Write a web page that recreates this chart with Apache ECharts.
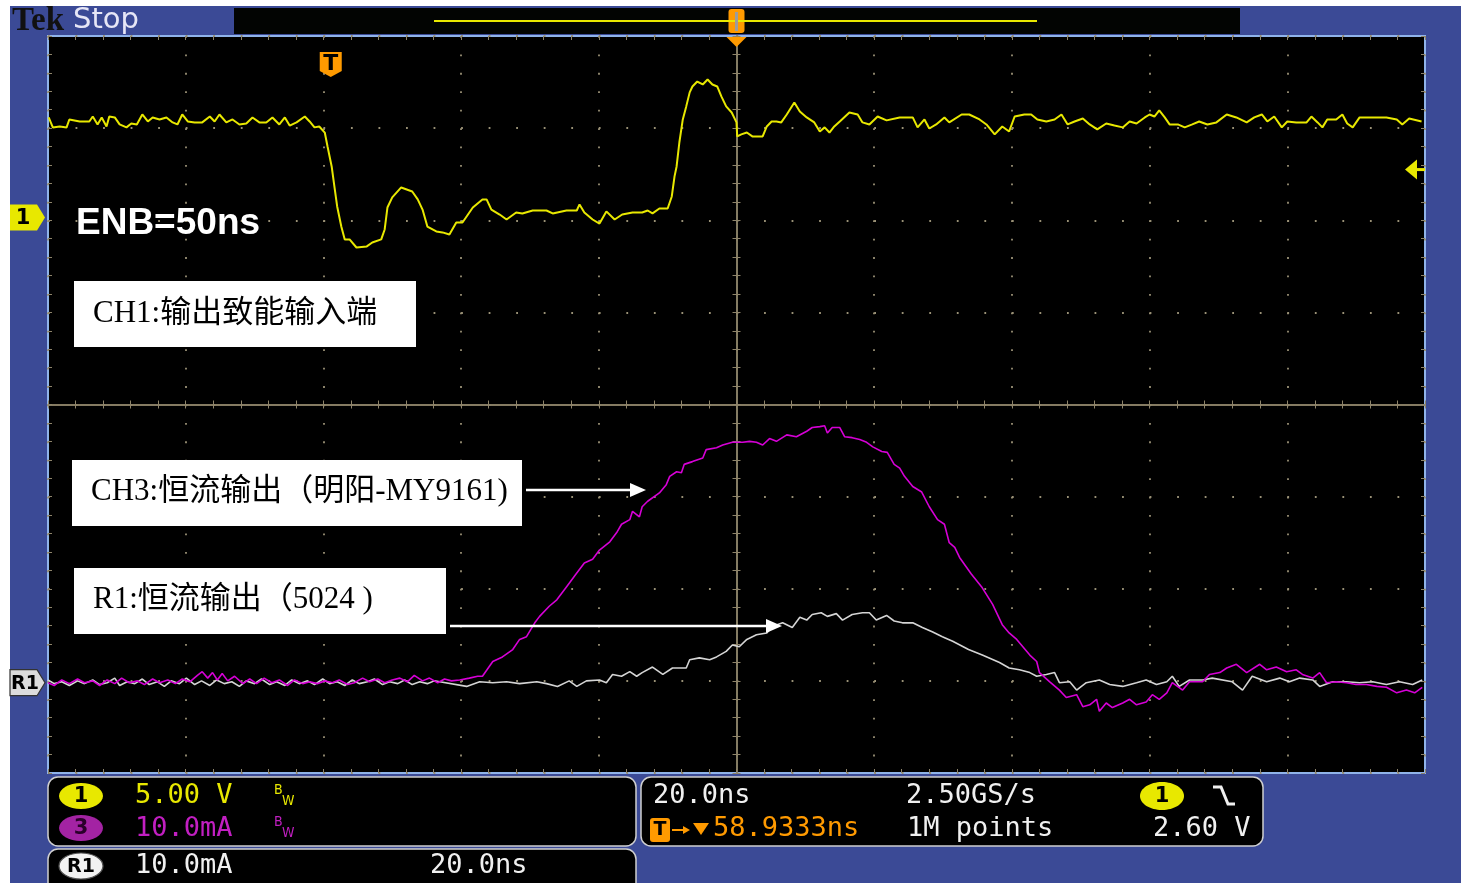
<!DOCTYPE html>
<html>
<head>
<meta charset="utf-8">
<script src="https://cdn.jsdelivr.net/npm/echarts/dist/echarts.min.js"></script>
<style>
html,body{margin:0;padding:0;background:#fff;overflow:hidden;}
#wrap{position:relative;width:1461px;height:883px;background:#fff;}
#frame{position:absolute;left:10px;top:6px;width:1451px;height:877px;background:#3b4a96;}
#c{position:absolute;left:0;top:0;width:1461px;height:883px;}
</style>
</head>
<body>
<div id="wrap"><div id="frame"></div><div id="c"></div></div>
<script>
// ---------- scope settings ----------
const timeMin = -100, timeMax = 100, timePerDiv = 20;      // ns, 0 = screen centre
const ch1VoltsPerDiv = 5, ch1PositionDiv = 2.03;           // CH1 ground 2.03 div above centre
const currentPerDiv = 10, currentPositionDiv = -3.02;      // CH3 / R1 ground below centre
const triggerTimeNs = -58.9333;                            // trigger point relative to centre
const triggerLevelV = 2.60;
const sampleRate = '2.50GS/s', recordLength = '1M points';

// ---------- CH1: output-enable input (V) ----------
const ch1Time = [-99.9,-99.3,-98.3,-97.3,-96.9,-95.4,-94.0,-93.5,-92.8,-92.2,
-91.5,-91.1,-90.3,-89.6,-88.6,-87.9,-87.1,-86.3,-85.5,-84.8,
-83.8,-82.8,-81.9,-81.2,-80.5,-79.7,-78.7,-77.6,-76.5,-75.8,
-75.1,-74.1,-73.2,-72.2,-71.2,-70.3,-69.3,-68.3,-67.4,-66.4,
-65.6,-64.9,-63.9,-62.7,-62.0,-61.3,-60.6,-59.8,-59.4,-58.8,
-58.4,-58.0,-57.4,-56.9,-56.2,-55.2,-53.7,-52.9,-51.6,-51.1,
-50.7,-50.0,-48.7,-47.1,-46.3,-45.6,-44.9,-43.6,-42.7,-41.7,
-40.7,-39.8,-38.3,-36.9,-36.3,-35.6,-34.4,-33.4,-32.0,-31.1,
-29.6,-27.6,-26.7,-24.7,-23.2,-22.8,-22.1,-20.9,-19.9,-18.9,
-17.7,-16.6,-15.1,-13.7,-12.9,-12.2,-11.2,-10.0,-9.4,-9.0,
-8.7,-8.3,-7.8,-7.3,-6.8,-6.4,-5.7,-4.9,-4.2,-3.5,
-2.8,-2.2,-1.5,-0.7,0.0,0.1,0.7,1.5,2.3,3.8,
4.4,5.1,5.8,6.5,7.3,8.4,9.2,10.2,11.3,12.1,
12.8,13.5,14.2,15.0,16.4,17.6,18.3,19.3,20.5,21.8,
23.7,25.6,26.3,27.3,28.0,29.0,30.2,30.9,32.7,33.8,
35.3,36.3,37.5,38.6,39.6,40.4,41.8,42.8,43.7,45.0,
46.2,47.2,48.1,49.1,50.3,51.3,52.4,53.7,54.9,56.1,
57.1,58.1,59.3,60.0,60.7,61.4,62.2,62.9,64.1,65.1,
66.2,67.2,68.4,69.7,71.2,72.6,74.1,75.2,76.3,77.1,
78.1,79.2,80.0,81.3,82.8,83.5,84.4,85.1,85.8,87.1,
88.0,88.7,89.5,90.5,92.4,94.4,95.9,96.7,97.7,99.5];
const ch1Volt = [5.43,4.89,4.94,4.89,5.32,5.21,5.21,5.48,5.05,5.43,
4.94,5.48,5.43,5.05,4.89,5.10,5.05,5.59,5.21,5.43,
5.32,5.43,5.16,5.05,5.59,5.21,5.16,5.16,5.48,5.21,
5.59,5.16,5.32,5.05,5.10,5.43,5.16,5.16,5.43,5.05,
5.43,4.99,5.16,5.48,5.21,4.89,4.94,4.61,3.85,2.77,
1.68,0.60,-0.49,-1.19,-1.19,-1.63,-1.57,-1.36,-1.19,-0.65,
0.54,1.09,1.63,1.41,0.98,0.43,-0.49,-0.76,-0.81,-0.92,
-0.27,-0.27,0.54,0.98,0.98,0.43,0.16,-0.11,0.27,0.22,
0.38,0.38,0.22,0.38,0.38,0.71,0.27,-0.11,-0.33,0.33,
-0.11,0.16,0.27,0.27,0.38,0.22,0.49,0.49,1.14,2.23,
2.77,4.07,5.32,6.03,6.79,7.11,7.38,7.22,7.49,7.22,
7.11,6.57,6.03,5.70,5.16,4.40,4.51,4.61,4.40,4.40,
4.94,5.21,5.21,5.16,5.59,6.24,5.75,5.43,5.16,4.67,
4.89,4.61,4.94,5.21,5.70,5.59,5.16,5.05,5.48,5.27,
5.43,5.43,4.89,5.32,4.83,5.05,5.43,5.16,5.59,5.59,
5.32,5.05,4.51,4.94,4.67,5.48,5.59,5.59,5.32,5.21,
5.32,5.59,5.05,5.21,5.37,5.05,4.78,5.10,4.99,4.89,
5.21,5.10,5.43,5.59,5.48,5.81,5.43,5.05,5.05,4.89,
5.05,5.21,5.05,5.16,5.59,5.43,5.16,5.43,5.59,5.21,
5.48,4.89,5.21,5.16,5.16,5.48,5.16,4.89,5.32,5.32,
5.59,5.10,4.89,5.43,5.43,5.43,5.32,5.05,5.37,5.21];

// ---------- CH3: constant-current output, MY9161 (mA) ----------
const ch3Time = [-100.0,-99.1,-98.0,-96.9,-95.7,-94.7,-93.5,-92.5,-91.4,-90.3,
-89.3,-88.2,-87.0,-86.0,-84.8,-83.8,-82.6,-81.5,-80.5,-79.4,
-78.3,-77.6,-76.8,-76.1,-75.4,-74.7,-73.9,-72.9,-71.7,-70.7,
-69.7,-68.6,-67.5,-66.4,-65.2,-64.2,-63.0,-62.0,-60.9,-59.8,
-58.7,-57.7,-56.5,-55.5,-54.3,-53.3,-52.1,-51.1,-50.0,-48.9,
-47.8,-46.8,-45.6,-44.6,-43.4,-42.4,-41.4,-40.2,-38.8,-37.6,
-36.9,-35.4,-34.0,-32.5,-31.5,-30.5,-29.3,-28.6,-27.2,-26.1,
-24.7,-23.2,-22.1,-20.9,-19.9,-18.4,-17.4,-16.7,-15.5,-15.1,
-14.1,-13.7,-12.9,-11.2,-10.2,-9.7,-8.7,-8.0,-7.6,-6.4,
-4.9,-4.4,-2.9,-2.0,-0.6,0.9,1.9,2.9,3.8,4.8,
5.8,7.3,8.7,10.2,11.0,12.1,12.8,13.2,13.9,15.0,
15.7,16.8,17.9,18.9,19.8,21.1,21.9,22.9,23.7,24.4,
25.6,26.9,28.0,29.2,30.2,30.9,31.7,32.4,34.1,35.7,
37.2,38.6,39.6,40.7,42.6,43.6,44.0,45.5,46.9,47.9,
49.4,50.3,51.3,52.3,52.7,53.7,54.6,56.1,57.1,58.1,
59.5,60.4,61.4,62.5,63.3,64.8,65.8,67.7,68.7,70.2,
71.2,72.6,74.1,76.0,77.0,78.4,79.9,81.3,82.2,83.7,
84.7,85.7,87.1,88.6,90.0,91.5,93.0,94.4,95.9,97.3,
98.5,99.6];
const ch3Current = [0.0,-0.3,0.3,-0.1,0.4,0.0,0.2,-0.3,0.3,-0.1,
0.5,0.0,0.2,-0.2,0.4,0.0,0.3,-0.1,0.4,0.1,
0.8,1.2,0.5,1.1,0.3,1.0,0.2,0.7,-0.1,0.4,
-0.1,0.5,0.0,0.3,-0.3,0.3,-0.1,0.1,-0.1,0.2,
0.0,0.3,-0.2,0.0,0.5,0.1,0.4,0.0,0.3,0.5,
0.1,0.8,0.2,0.5,0.0,0.4,0.2,0.3,0.5,0.7,
0.7,2.3,2.8,3.6,4.7,5.0,6.5,7.2,8.3,9.0,
10.4,11.9,13.0,13.4,14.4,15.3,16.3,17.2,17.7,18.6,
18.0,19.1,19.7,20.6,21.5,22.4,22.9,22.8,23.7,24.0,
24.4,25.3,25.5,25.8,26.1,26.1,26.2,26.1,25.8,26.5,
26.2,26.9,26.7,27.3,27.7,27.8,27.9,27.1,27.7,27.7,
26.7,26.6,26.4,26.1,25.6,25.1,25.0,23.7,23.3,22.4,
21.3,20.7,19.1,17.7,17.2,15.2,14.7,13.6,11.8,10.3,
8.5,6.3,5.4,4.7,3.0,2.3,1.1,0.1,-0.8,-1.6,
-1.3,-2.6,-2.4,-1.8,-3.1,-2.2,-2.7,-2.2,-1.8,-2.4,
-2.1,-1.3,-1.8,-1.1,0.0,-0.8,0.1,0.1,0.9,1.1,
1.6,2.0,1.1,2.0,1.4,1.7,1.2,1.4,0.9,0.5,
1.1,0.0,0.1,0.0,-0.2,-0.2,-0.4,-0.5,-1.1,-0.8,
-1.1,-0.5];

// ---------- R1: reference waveform, constant-current output 5024 (mA) ----------
const r1Time = [-100.0,-99.1,-98.0,-96.9,-95.7,-94.7,-93.5,-92.5,-91.4,-90.3,
-89.6,-88.5,-87.4,-86.3,-85.3,-84.1,-83.1,-82.1,-80.9,-79.9,
-78.7,-77.7,-76.5,-75.5,-74.4,-73.3,-72.2,-71.2,-70.0,-69.0,
-67.8,-66.8,-65.6,-64.6,-63.5,-62.3,-61.3,-60.1,-59.1,-58.0,
-56.9,-55.8,-54.8,-53.6,-52.6,-51.4,-50.4,-49.2,-48.2,-47.1,
-46.0,-44.9,-43.9,-43.1,-39.2,-37.3,-35.4,-33.4,-31.5,-29.0,
-27.6,-26.0,-24.3,-23.2,-21.8,-19.9,-18.9,-18.0,-16.7,-15.5,
-14.5,-13.7,-12.2,-10.7,-9.3,-7.3,-6.8,-5.4,-3.9,-2.9,
-1.5,-0.6,0.4,1.5,2.9,4.4,5.2,6.7,8.1,9.2,
10.2,11.0,12.3,13.2,14.5,15.4,16.8,18.3,19.3,20.3,
21.8,22.9,24.1,25.6,27.0,28.5,29.9,31.4,33.7,35.7,
38.2,39.6,41.1,42.6,43.6,45.0,46.2,46.9,48.4,49.4,
50.8,52.7,54.2,56.1,58.1,59.5,61.0,62.5,63.3,64.3,
65.8,67.7,69.1,72.0,73.5,74.9,77.0,78.9,80.3,81.8,
83.7,84.7,86.6,88.6,90.5,92.4,94.4,96.3,98.2,99.6];
const r1Current = [0.3,-0.1,0.1,-0.3,0.2,-0.1,0.3,-0.2,0.0,0.5,
-0.3,0.1,-0.1,0.4,-0.2,0.1,-0.4,0.2,-0.1,0.5,
-0.2,0.2,-0.3,0.3,-0.1,0.1,-0.4,0.2,-0.1,0.4,
-0.2,0.1,-0.3,0.3,-0.1,0.2,-0.2,0.4,-0.1,0.1,
-0.3,0.3,-0.1,0.1,0.4,-0.2,0.1,-0.1,0.3,-0.2,
0.1,-0.1,0.2,0.1,-0.4,0.1,0.0,0.1,-0.1,0.1,
-0.1,-0.4,0.2,-0.4,0.2,0.3,0.0,0.9,0.7,1.2,
0.7,1.1,1.7,0.9,1.6,1.6,2.5,2.7,2.5,2.8,
3.4,4.1,3.9,4.7,5.2,5.4,6.1,6.5,6.0,7.1,
6.8,7.4,7.6,7.2,7.5,6.8,7.4,7.6,7.6,6.8,
7.3,6.7,6.5,6.5,6.0,5.5,5.0,4.5,3.6,3.0,
2.2,1.6,1.4,1.1,0.7,0.9,1.1,0.0,0.1,-0.8,
0.0,0.3,-0.2,-0.4,0.0,0.3,-0.2,0.1,0.7,-0.4,
0.3,0.3,0.5,0.1,-0.8,0.7,0.1,0.5,0.1,0.5,
0.3,-0.4,0.1,0.1,0.0,0.1,-0.2,0.1,-0.2,0.3];

// ---------- colours ----------
const C = {
  plotBorder:'#8fb3ea', gridDot:'#9a9176', center:'#8e846a',
  ch1:'#e8e800', ch3:'#d600d6', ch3Text:'#c21fc2', r1:'#d4d4d4',
  orange:'#ff9a00', text:'#f0f0f0'
};

const chart = echarts.init(document.getElementById('c'), null, {renderer:'canvas'});
const pairs = (ts, vs) => ts.map((t, i) => [t, vs[i]]);

const tickStyle = {color:C.center, width:1};
function timeAxis(extra){
  return Object.assign({
    type:'value', min:timeMin, max:timeMax, interval:timePerDiv,
    axisLabel:{show:false}, splitLine:{show:false},
    axisTick:{show:true, length:4, lineStyle:tickStyle},
    minorTick:{show:true, splitNumber:5, length:4, lineStyle:tickStyle}
  }, extra);
}
function divAxis(extra){
  return Object.assign({
    type:'value', min:-4, max:4, interval:1,
    axisLabel:{show:false}, splitLine:{show:false},
    axisTick:{show:true, length:4, lineStyle:tickStyle},
    minorTick:{show:true, splitNumber:5, length:4, lineStyle:tickStyle}
  }, extra);
}

const ch1Min = (-4 - ch1PositionDiv) * ch1VoltsPerDiv, ch1Max = (4 - ch1PositionDiv) * ch1VoltsPerDiv;
const curMin = (-4 - currentPositionDiv) * currentPerDiv, curMax = (4 - currentPositionDiv) * currentPerDiv;

chart.setOption({
  animation:false,
  grid:{left:48, top:36, width:1377, height:737, show:true, backgroundColor:'#000',
        borderColor:C.plotBorder, borderWidth:2, outerBoundsMode:'none', containLabel:false},
  xAxis:[
    timeAxis({position:'bottom',
      axisLine:{show:true, onZero:true, onZeroAxisIndex:0, lineStyle:{color:C.center, width:1.5}},
      axisTick:{show:true, inside:false, length:4, lineStyle:tickStyle},
      splitLine:{show:true, lineStyle:{color:C.gridDot, width:1.8, type:[1.8, 16.625]}}}),
    timeAxis({position:'top',
      axisLine:{show:true, onZero:true, onZeroAxisIndex:0, lineStyle:{color:C.center, width:1.5}},
      axisTick:{show:true, inside:false, length:4, lineStyle:tickStyle}}),
    timeAxis({position:'top', axisLine:{show:false, onZero:false},
      axisTick:{show:true, inside:true, length:4, lineStyle:tickStyle}}),
    timeAxis({position:'bottom', axisLine:{show:false, onZero:false},
      axisTick:{show:true, inside:true, length:4, lineStyle:tickStyle}})
  ],
  yAxis:[
    divAxis({position:'left',
      axisLine:{show:true, onZero:true, onZeroAxisIndex:0, lineStyle:{color:C.center, width:1.5}},
      axisTick:{show:true, inside:false, length:4, lineStyle:tickStyle},
      splitLine:{show:true, lineStyle:{color:C.gridDot, width:1.8, type:[1.8, 25.74]}}}),
    divAxis({position:'right',
      axisLine:{show:true, onZero:true, onZeroAxisIndex:0, lineStyle:{color:C.center, width:1.5}},
      axisTick:{show:true, inside:false, length:4, lineStyle:tickStyle}}),
    divAxis({position:'left', axisLine:{show:false, onZero:false},
      axisTick:{show:true, inside:true, length:4, lineStyle:tickStyle}}),
    divAxis({position:'right', axisLine:{show:false, onZero:false},
      axisTick:{show:true, inside:true, length:4, lineStyle:tickStyle}}),
    {type:'value', show:false, min:ch1Min, max:ch1Max, axisLine:{onZero:false}},
    {type:'value', show:false, min:curMin, max:curMax, axisLine:{onZero:false}}
  ],
  series:[
    {name:'R1', type:'line', xAxisIndex:0, yAxisIndex:5, data:pairs(r1Time, r1Current),
     showSymbol:false, symbol:'none', silent:true, z:3,
     lineStyle:{color:C.r1, width:1.6}},
    {name:'CH3', type:'line', xAxisIndex:0, yAxisIndex:5, data:pairs(ch3Time, ch3Current),
     showSymbol:false, symbol:'none', silent:true, z:4,
     lineStyle:{color:C.ch3, width:1.6}},
    {name:'CH1', type:'line', xAxisIndex:0, yAxisIndex:4, data:pairs(ch1Time, ch1Volt),
     showSymbol:false, symbol:'none', silent:true, z:5,
     lineStyle:{color:C.ch1, width:2}}
  ]
});

// ---------- positions from the scales ----------
const ch1GroundY = chart.convertToPixel({yAxisIndex:4}, 0);
const curGroundY = chart.convertToPixel({yAxisIndex:5}, 0);
const trigLevelY = chart.convertToPixel({yAxisIndex:4}, triggerLevelV);
const trigX = chart.convertToPixel({xAxisIndex:0}, triggerTimeNs);
const centerX = chart.convertToPixel({xAxisIndex:0}, 0);

// ---------- graphic helpers ----------
const Z = 100;
const txt = (x, y, text, font, fill, align) => ({type:'text', x, y, z:Z+2, silent:true,
  style:{text, font, fill, align:align || 'left', verticalAlign:'middle'}});
const rect = (x, y, w, h, fill, r, stroke, lw) => ({type:'rect', z:Z, silent:true,
  shape:{x, y, width:w, height:h, r:r || 0}, style:{fill, stroke:stroke || null, lineWidth:lw || 0}});
const poly = (points, fill, stroke, lw) => ({type:'polygon', z:Z+1, silent:true,
  shape:{points}, style:{fill, stroke:stroke || null, lineWidth:lw || 0}});
const line = (x1, y1, x2, y2, stroke, lw) => ({type:'line', z:Z+1, silent:true,
  shape:{x1, y1, x2, y2}, style:{stroke, lineWidth:lw}});
const ell = (cx, cy, rx, ry, fill, stroke) => ({type:'ellipse', z:Z+1, silent:true,
  shape:{cx, cy, rx, ry}, style:{fill, stroke:stroke || null, lineWidth:stroke ? 1.2 : 0}});

const mono = '27px "DejaVu Sans Mono", monospace';
const badge = 'bold 21px "DejaVu Sans", sans-serif';
const noteFont = '31px "Liberation Serif", "Noto Sans CJK SC", serif';
const bwFont = '14px "DejaVu Sans Condensed", "DejaVu Sans", sans-serif';

const fmt1 = v => v.toFixed(1);
const els = [
  // top status bar
  txt(12, 21, 'Tek', 'bold 33px "Liberation Serif", serif', '#111'),
  txt(73, 20, 'Stop', '29px "DejaVu Sans", sans-serif', '#e6e6f6'),
  rect(234, 8, 1006, 26, '#020402'),
  line(434, 21, 1037, 21, C.ch1, 2),
  rect(centerX - 8, 9, 16, 24, C.orange, 3),
  line(centerX, 12, centerX, 31, '#9c9c9c', 3),
  poly([[centerX - 10, 37], [centerX + 10, 37], [centerX, 47]], C.orange),

  // trigger position marker
  poly([[trigX - 11, 52], [trigX + 11, 52], [trigX + 11, 71], [trigX, 77], [trigX - 11, 71]], C.orange),
  txt(trigX, 64, 'T', 'bold 22px "DejaVu Sans", sans-serif', '#000', 'center'),

  // channel ground markers and trigger level
  poly([[10, ch1GroundY - 13], [37, ch1GroundY - 13], [45, ch1GroundY], [37, ch1GroundY + 13], [10, ch1GroundY + 13]], C.ch1),
  txt(23, ch1GroundY + 1, '1', badge, '#000', 'center'),
  poly([[10, curGroundY - 13], [37, curGroundY - 13], [45, curGroundY], [37, curGroundY + 13], [10, curGroundY + 13]], '#dcdcdc', '#333', 1.2),
  txt(25, curGroundY + 1, 'R1', 'bold 19px "DejaVu Sans", sans-serif', '#000', 'center'),
  poly([[1405, trigLevelY], [1417, trigLevelY - 10], [1417, trigLevelY + 10]], C.ch1),
  line(1415, trigLevelY, 1425, trigLevelY, C.ch1, 3),

  // annotations
  txt(76, 224, 'ENB=50ns', 'bold 37px "Liberation Sans", Arial, sans-serif', '#ffffff'),
  rect(74, 281, 342, 66, '#ffffff'),
  txt(93, 314, 'CH1:输出致能输入端', noteFont, '#000'),
  rect(72, 460, 450, 66, '#ffffff'),
  txt(91, 492, 'CH3:恒流输出（明阳-MY9161)', noteFont, '#000'),
  rect(74, 568, 372, 66, '#ffffff'),
  txt(93, 600, 'R1:恒流输出（5024 )', noteFont, '#000'),
  line(526, 490, 632, 490, '#ffffff', 2.5),
  poly([[630, 483], [646, 490], [630, 497]], '#ffffff'),
  line(450, 626, 768, 626, '#ffffff', 2.5),
  poly([[766, 619], [782, 626], [766, 633]], '#ffffff'),

  // bottom readout panels
  rect(48, 777, 588, 69, '#000', 10, '#cfcfcf', 1.5),
  rect(48, 849, 588, 50, '#000', 10, '#cfcfcf', 1.5),
  rect(641, 777, 622, 69, '#000', 10, '#cfcfcf', 1.5),

  ell(81, 796, 22, 13, C.ch1), txt(81, 797, '1', badge, '#000', 'center'),
  txt(135, 796, ch1VoltsPerDiv.toFixed(2) + ' V', mono, C.ch1),
  txt(274, 790, 'B', bwFont, C.ch1), txt(282, 801, 'W', bwFont, C.ch1),
  ell(81, 828, 22, 13, '#a323a3'), txt(81, 829, '3', badge, '#2a002a', 'center'),
  txt(135, 829, fmt1(currentPerDiv) + 'mA', mono, C.ch3Text),
  txt(274, 822, 'B', bwFont, C.ch3Text), txt(282, 833, 'W', bwFont, C.ch3Text),

  ell(81, 866, 22, 13, '#f2f2f2', '#555'), txt(81, 867, 'R1', 'bold 19px "DejaVu Sans", sans-serif', '#000', 'center'),
  txt(135, 866, fmt1(currentPerDiv) + 'mA', mono, C.text),
  txt(430, 866, fmt1(timePerDiv) + 'ns', mono, C.text),

  txt(653, 796, fmt1(timePerDiv) + 'ns', mono, C.text),
  txt(906, 796, sampleRate, mono, C.text),
  ell(1162, 796, 22, 14, C.ch1), txt(1162, 797, '1', badge, '#000', 'center'),
  {type:'polyline', z:Z+1, silent:true, shape:{points:[[1213, 787], [1221, 787], [1228, 804], [1235, 804]]},
   style:{stroke:C.text, lineWidth:3, fill:null}},
  rect(650, 818, 20, 24, C.orange, 3), txt(660, 830, 'T', 'bold 19px "DejaVu Sans", sans-serif', '#000', 'center'),
  line(672, 830, 684, 830, C.orange, 2),
  poly([[683, 826], [690, 830], [683, 834]], C.orange),
  poly([[693, 823], [709, 823], [701, 835]], C.orange),
  txt(713, 829, (-triggerTimeNs).toFixed(4) + 'ns', mono, C.orange),
  txt(907, 829, recordLength, mono, C.text),
  txt(1153, 829, triggerLevelV.toFixed(2) + ' V', mono, C.text)
];

chart.setOption({graphic:{elements:els}});
</script>
</body>
</html>
